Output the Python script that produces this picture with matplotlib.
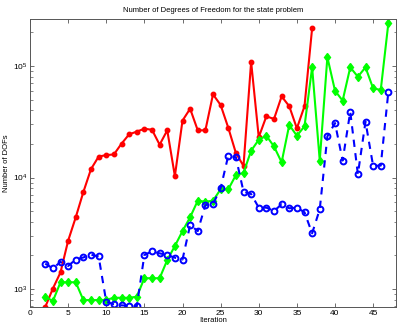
import numpy as np
import matplotlib
matplotlib.use("Agg")
import matplotlib.pyplot as plt
from matplotlib.ticker import LogLocator, LogFormatterMathtext, MultipleLocator, NullFormatter

plt.rcParams['font.family'] = ['Liberation Sans', 'DejaVu Sans']
plt.rcParams['mathtext.fontset'] = 'custom'
plt.rcParams['mathtext.rm'] = 'Liberation Sans'

red_iter = list(range(2, 38))
red_dofs = [690, 1010, 1410, 2710, 4400, 7420, 11900, 15400, 15900, 16100,
            20100, 24400, 25800, 27400, 26800, 19700, 26500, 10300, 32400, 41400,
            26500, 26500, 55700, 44700, 28000, 16600, 12700, 109000, 23000, 35400,
            33500, 53400, 43600, 27600, 43600, 218000]

green_iter = list(range(2, 48))
green_dofs = [853, 780, 1150, 1150, 1150, 796, 796, 796, 800, 835,
              835, 835, 853, 1250, 1250, 1250, 1820, 2430, 3310, 4400,
              6200, 6070, 6200, 7840, 7840, 10500, 11000, 17400, 21800, 23700,
              19000, 13700, 29600, 23700, 28800, 97300, 14200, 120000, 60100, 48900,
              97300, 80200, 97300, 63100, 61000, 243000]

blue_iter = list(range(2, 48))
blue_dofs = [1690, 1530, 1750, 1610, 1840, 1920, 2030, 1960, 769, 729,
             714, 708, 699, 2020, 2180, 2090, 2020, 1910, 1840, 3750,
             3310, 5660, 5780, 8000, 15700, 15200, 7470, 7110, 5370, 5370,
             5010, 5750, 5300, 5370, 4880, 3160, 5190, 23400, 30800, 14200,
             38900, 10700, 31700, 12700, 12800, 58900]

fig = plt.figure(figsize=(3.99, 3.31), dpi=100)
ax = fig.add_axes([30/399, 24/331, 366/399, 288/331])

ax.plot(red_iter, red_dofs, color=(1, 0, 0), linestyle='-', linewidth=1.5,
        marker='o', markersize=3.2, markerfacecolor=(1, 0, 0), markeredgecolor=(1, 0, 0))
ax.plot(green_iter, green_dofs, color=(0, 1, 0), linestyle='-', linewidth=1.5,
        marker='d', markersize=4.5, markerfacecolor=(0, 1, 0), markeredgecolor=(0, 1, 0))
ax.plot(blue_iter, blue_dofs, color=(0, 0, 1), linestyle=(0, (3.5, 3)), linewidth=1.5,
        marker='o', markersize=4.2, markerfacecolor='none', markeredgecolor=(0, 0, 1),
        markeredgewidth=1.4)

ax.set_yscale('log')
ax.set_xlim(0, 48)
ax.set_ylim(690, 264000)
ax.xaxis.set_major_locator(MultipleLocator(5))
ax.yaxis.set_major_locator(LogLocator(base=10))
ax.yaxis.set_major_formatter(LogFormatterMathtext())
ax.yaxis.set_minor_locator(LogLocator(base=10, subs=np.arange(2, 10)))
ax.yaxis.set_minor_formatter(NullFormatter())

ax.tick_params(which='both', direction='in', top=True, right=True, labelsize=6, pad=2,
               color='#555555')
ax.tick_params(which='major', length=3, width=0.6)
ax.tick_params(which='minor', length=1.8, width=0.5)
for s in ax.spines.values():
    s.set_linewidth(0.7)
    s.set_color('#555555')

ax.set_title('Number of Degrees of Freedom for the state problem', fontsize=5.5, pad=5)
ax.set_xlabel('Iteration', fontsize=5.5, labelpad=0)
ax.set_ylabel('Number of DOFs', fontsize=5.5, labelpad=2)

fig.savefig('out.png', dpi=100)
